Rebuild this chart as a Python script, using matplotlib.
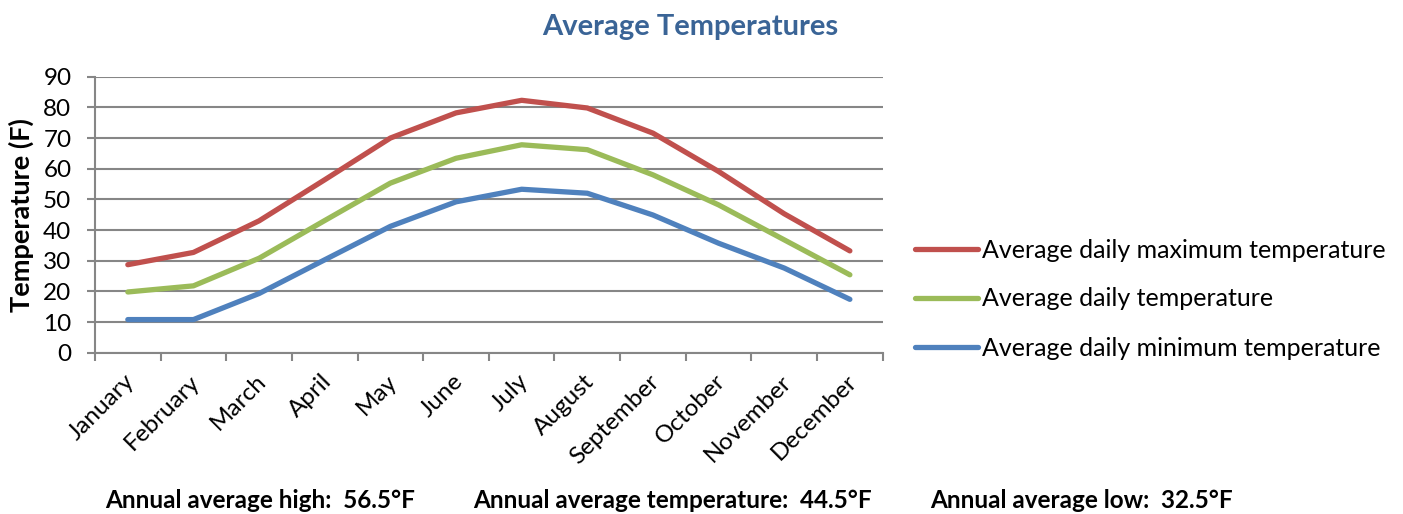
import matplotlib
matplotlib.use("Agg")
import matplotlib.pyplot as plt
import matplotlib.transforms as mtransforms
import numpy as np

months = ["January", "February", "March", "April", "May", "June", "July",
          "August", "September", "October", "November", "December"]
max_temp = [28.7, 32.7, 43.0, 56.4, 70.0, 78.2, 82.3, 79.8, 71.6, 59.1, 45.3, 33.2]
avg_temp = [19.8, 21.8, 30.8, 43.1, 55.3, 63.4, 67.8, 66.2, 58.0, 48.2, 36.8, 25.4]
min_temp = [10.8, 10.8, 19.3, 30.3, 41.2, 49.2, 53.3, 52.0, 44.9, 35.7, 27.6, 17.4]
series_names = ["Average daily maximum temperature", "Average daily temperature",
                "Average daily minimum temperature"]
colors = ["#C0504D", "#9BBB59", "#4F81BD"]
yticks = [0, 10, 20, 30, 40, 50, 60, 70, 80, 90]
footer = ["Annual average high:  56.5°F", "Annual average temperature:  44.5°F",
          "Annual average low:  32.5°F"]

plt.rcParams['font.family'] = ['Lato', 'DejaVu Sans']

W, H = 1403, 514
fig = plt.figure(figsize=(W / 100, H / 100), dpi=100)
ax = fig.add_axes([95 / W, 1 - 352.7 / H, (882.7 - 95) / W, (352.7 - 76.7) / H])

x = np.arange(len(months))
lines = []
for vals, c, name in zip([max_temp, avg_temp, min_temp], colors, series_names):
    ln, = ax.plot(x, vals, color=c, lw=3.8, solid_capstyle='round',
                  solid_joinstyle='round', label=name, zorder=3)
    lines.append(ln)

ax.set_xlim(-0.5, len(months) - 0.5)
ax.set_ylim(0, 90)
ax.set_yticks(yticks)
ax.set_yticklabels([str(v) for v in yticks], fontsize=17.5)
ax.yaxis.grid(True, color="#868686", lw=1.5)
ax.set_axisbelow(True)

ax.set_xticks(np.arange(-0.5, len(months), 1.0))
ax.set_xticklabels([])
ax.set_xticks(x, minor=True)
ax.set_xticklabels(months, minor=True, rotation=45, ha='right', va='top',
                   rotation_mode='anchor', fontsize=17.5)
ax.tick_params(axis='x', which='minor', length=0, pad=13)
ax.tick_params(axis='x', which='major', length=6, width=1.5, color="#868686")
ax.tick_params(axis='y', length=6, width=1.5, color="#868686", pad=11)
offset = mtransforms.ScaledTranslation(-3 / 72, 0, fig.dpi_scale_trans)
for lbl in ax.get_xticklabels(minor=True):
    lbl.set_transform(lbl.get_transform() + offset)

for s in ['top', 'right']:
    ax.spines[s].set_visible(False)
for s in ['left', 'bottom']:
    ax.spines[s].set_color("#868686")
    ax.spines[s].set_linewidth(1.5)

ax.set_ylabel("Temperature (F)", fontsize=19.5, fontweight='bold')
ax.yaxis.set_label_coords(-0.078, 0.5)

fig.text(690 / W, 1 - 27 / H, "Average Temperatures", ha='center', va='center',
         fontsize=21, fontweight='bold', color="#3A6496")

leg = fig.legend(handles=lines, loc='center left', bbox_to_anchor=(915 / W, 1 - 299 / H),
                 frameon=False, fontsize=18, handlelength=2.5, handletextpad=0.2,
                 labelspacing=1.04, borderaxespad=0, borderpad=0)

fig.text(105 / W, 1 - 500 / H, footer[0], ha='left', va='center', fontsize=17.5, fontweight='bold')
fig.text(473 / W, 1 - 500 / H, footer[1], ha='left', va='center', fontsize=17.5, fontweight='bold')
fig.text(930 / W, 1 - 500 / H, footer[2], ha='left', va='center', fontsize=17.5, fontweight='bold')

fig.savefig("out.png", dpi=100)
